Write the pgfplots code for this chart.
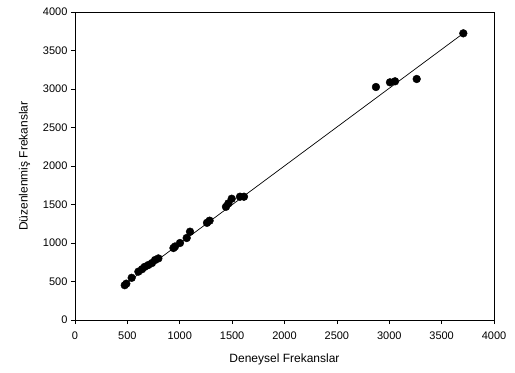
\documentclass[border=0pt]{standalone}
\usepackage{pgfplots}
\pgfplotsset{compat=1.18}
\usepackage{fontspec}
\setmainfont{Liberation Sans}
\begin{document}
\begin{tikzpicture}
\begin{axis}[
  name=ax, at={(0,0)}, anchor=south west,
  scale only axis, width=419pt, height=308pt,
  xmin=0, xmax=4000, ymin=0, ymax=4000,
  xtick={0,500,...,4000}, ytick={0,500,...,4000},
  tick align=outside, tick pos=left,
  major tick length=4pt,
  axis line style={line width=0.6pt},
  tick style={line width=0.6pt, black},
  /pgf/number format/assume math mode=true,
  /pgf/number format/1000 sep={},
  tick label style={font=\fontsize{11}{12}\selectfont},
  xticklabel style={yshift=-4pt},
  label style={font=\fontsize{12}{14}\selectfont},
  xlabel={Deneysel Frekanslar},
  ylabel={Düzenlenmiş Frekanslar},
  xlabel style={yshift=-8pt},
  ylabel style={yshift=6pt},
  clip=false,
]
\addplot[black, line width=0.7pt, no marks] coordinates {(470,458) (3707,3723)};
\addplot[only marks, mark=*, mark size=3.9pt, black] coordinates {
(475,452) (490,472) (541,548) (605,628) (640,660) (665,690) (700,714) (735,740)
(764,779) (796,800)
(940,935) (955,955) (1002,1000)
(1066,1065) (1098,1147)
(1260,1262) (1285,1290)
(1441,1470) (1464,1515) (1496,1575) (1575,1601) (1613,1601)
(2873,3026) (3007,3087) (3055,3100) (3262,3130) (3707,3723)
};
\end{axis}
\path[use as bounding box] ([xshift=-75pt,yshift=-52pt]ax.south west) rectangle ([xshift=21pt,yshift=12pt]ax.north east);
\end{tikzpicture}
\end{document}
